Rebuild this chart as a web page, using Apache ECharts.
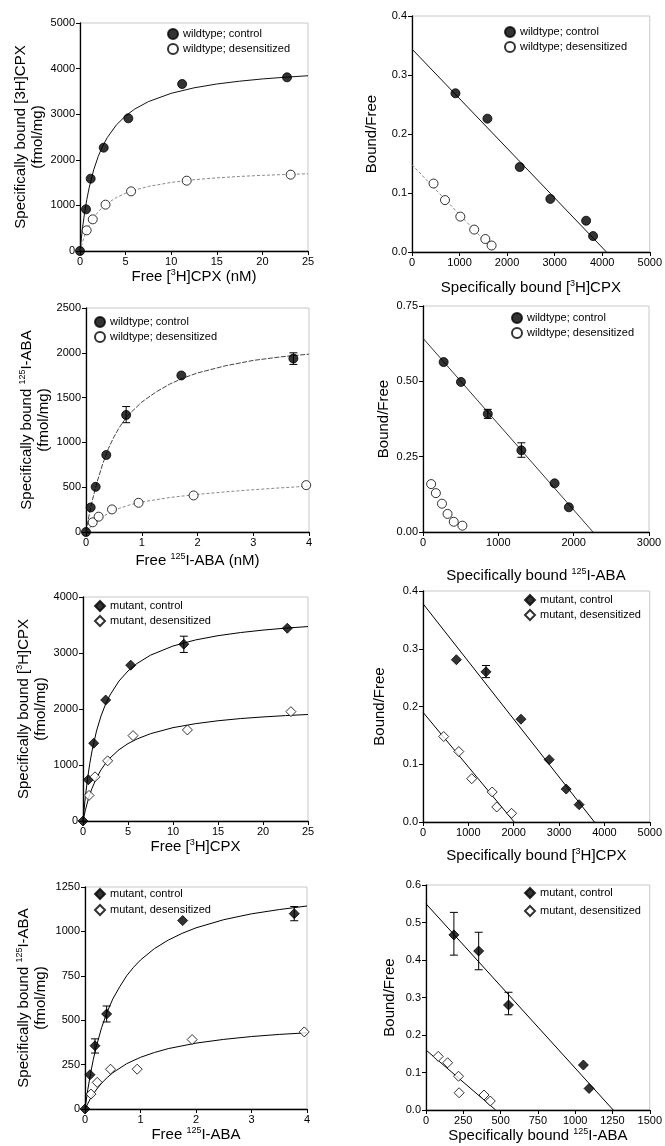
<!DOCTYPE html>
<html><head><meta charset="utf-8">
<script src="https://cdn.jsdelivr.net/npm/echarts@6/dist/echarts.min.js"></script>
<style>html,body{margin:0;padding:0;background:#fff}#c{width:665px;height:1146px}</style>
</head><body><div id="c"></div>
<script>
// ---------- Panel 1 / 2 : wildtype, [3H]CPX ----------
const wtCpxCtrlFree  = [0, 0.66, 1.17, 2.6, 5.3, 11.2, 22.7];
const wtCpxCtrlBound = [0, 914, 1586, 2266, 2909, 3662, 3808];
const wtCpxDesFree   = [0.73, 1.4, 2.8, 5.6, 11.7, 23.1];
const wtCpxDesBound  = [453, 694, 1016, 1308, 1542, 1674];
const wtCpxCtrlFit = [[0,0],[0.25,461],[0.5,830],[0.75,1132],[1,1383],[1.5,1779],[2,2075],[2.5,2306],[3,2490],[4,2767],[5,2964],[6,3113],[7.5,3276],[10,3458],[12.5,3578],[15,3662],[17.5,3724],[20,3773],[22.5,3811],[25,3843]];
const wtCpxDesFit  = [[0,0],[0.25,181],[0.5,330],[0.75,455],[1,561],[1.5,730],[2,860],[2.5,964],[3,1047],[4,1175],[5,1267],[6,1337],[7.5,1416],[10,1504],[12.5,1563],[15,1604],[17.5,1635],[20,1659],[22.5,1678],[25,1694]];
const wtCpxCtrlBF = [0.269, 0.226, 0.144, 0.090, 0.053, 0.027];
const wtCpxDesBF  = [0.116, 0.088, 0.060, 0.038, 0.022, 0.011];
const wtCpxCtrlLine = [[0,0.344],[4090,0]];
const wtCpxDesLine  = [[0,0.148],[1750,0]];

// ---------- Panel 3 / 4 : wildtype, 125I-ABA ----------
const wtAbaCtrlFree  = [0, 0.084, 0.173, 0.364, 0.72, 1.71, 3.72];
const wtAbaCtrlBound = [0, 274, 504, 860, 1306, 1747, 1936];
const wtAbaDesFree   = [0.12, 0.227, 0.466, 0.943, 1.93, 3.95];
const wtAbaDesBound  = [108, 171, 252, 326, 408, 523];
const wtAbaCtrlErr = [[0.72, 1220, 1400], [3.72, 1870, 2000]];
const wtAbaCtrlFit = [[0,0],[0.05,170],[0.1,320],[0.2,560],[0.3,760],[0.4,930],[0.5,1060],[0.6,1170],[0.75,1300],[1,1450],[1.25,1560],[1.5,1650],[1.75,1720],[2,1775],[2.5,1855],[3,1915],[3.5,1955],[4,1985]];
const wtAbaDesFit  = [[0,0],[0.1,70],[0.2,125],[0.3,170],[0.45,225],[0.6,265],[0.8,305],[1,335],[1.5,385],[2,420],[2.5,448],[3,472],[3.5,493],[4,512]];
const wtAbaCtrlBF = [0.564, 0.498, 0.392, 0.271, 0.1615, 0.082];
const wtAbaDesBF  = [0.159, 0.129, 0.094, 0.060, 0.034, 0.021];
const wtAbaCtrlBFErr = [[860, 0.377, 0.407], [1306, 0.248, 0.296]];
const wtAbaCtrlLine = [[0,0.643],[2257,0]];

// ---------- Panel 5 / 6 : mutant, [3H]CPX ----------
const muCpxCtrlFree  = [0, 0.59, 1.19, 2.52, 5.3, 11.2, 22.7];
const muCpxCtrlBound = [0, 736, 1389, 2160, 2783, 3157, 3442];
const muCpxDesFree   = [0.67, 1.33, 2.74, 5.56, 11.6, 23.1];
const muCpxDesBound  = [457, 789, 1074, 1525, 1626, 1953];
const muCpxCtrlErr = [[11.2, 3010, 3300]];
const muCpxCtrlFit = [[0,0],[0.25,417],[0.5,750],[0.75,1023],[1,1250],[1.5,1607],[2,1875],[2.5,2083],[3,2250],[4,2500],[5,2679],[6,2813],[7.5,2961],[10,3125],[12.5,3233],[15,3309],[17.5,3365],[20,3409],[22.5,3444],[25,3472]];
const muCpxDesFit  = [[0,0],[0.25,184],[0.5,339],[0.75,470],[1,583],[1.5,768],[2,913],[2.5,1029],[3,1125],[4,1273],[5,1382],[6,1465],[7.5,1559],[10,1667],[12.5,1738],[15,1790],[17.5,1829],[20,1858],[22.5,1882],[25,1902]];
const muCpxCtrlBF = [0.281, 0.260, 0.178, 0.108, 0.057, 0.030];
const muCpxDesBF  = [0.148, 0.122, 0.075, 0.052, 0.026, 0.015];
const muCpxCtrlBFErr = [[1389, 0.250, 0.271]];
const muCpxCtrlLine = [[0,0.378],[3780,0]];
const muCpxDesLine  = [[0,0.19],[2010,0]];

// ---------- Panel 7 / 8 : mutant, 125I-ABA ----------
const muAbaCtrlFree  = [0, 0.09, 0.18, 0.39, 1.76, 3.77];
const muAbaCtrlBound = [0, 193, 356, 535, 1061, 1100];
const muAbaDesFree   = [0.108, 0.22, 0.46, 0.94, 1.93, 3.95];
const muAbaDesBound  = [84, 150, 224, 224, 391, 434];
const muAbaCtrlErr = [[0.18, 315, 395], [0.39, 490, 580], [3.77, 1060, 1140]];
const muAbaCtrlFit = [[0,0],[0.05,108],[0.1,200],[0.15,279],[0.2,347],[0.3,459],[0.4,547],[0.5,619],[0.625,688],[0.75,750],[0.875,798],[1,839],[1.25,903],[1.5,951],[1.75,989],[2,1020],[2.5,1066],[3,1099],[3.5,1123],[4,1143]];
const muAbaDesFit  = [[0,0],[0.1,60],[0.2,107],[0.3,146],[0.4,177],[0.5,204],[0.75,255],[1,291],[1.25,318],[1.5,340],[2,371],[2.5,392],[3,408],[3.5,420],[4,429]];
const muAbaCtrlScBound = [187, 353, 553, 1055, 1093];
const muAbaCtrlBF = [0.467, 0.424, 0.280, 0.120, 0.0575];
const muAbaDesScBound = [82, 145, 218, 222, 389, 431];
const muAbaDesBF  = [0.143, 0.126, 0.090, 0.046, 0.040, 0.024];
const muAbaCtrlBFErr = [[187, 0.413, 0.527], [353, 0.374, 0.474], [553, 0.254, 0.314]];
const muAbaCtrlLine = [[0,0.55],[1255,0]];
const muAbaDesLine  = [[0,0.16],[467,0]];

// ---------- labels ----------
const WT_C = 'wildtype; control', WT_D = 'wildtype; desensitized';
const MU_C = 'mutant, control', MU_D = 'mutant, desensitized';

const FONT = '"Liberation Sans", Arial, Helvetica, sans-serif';
const rich = { sup: { fontSize: 9, verticalAlign: 'top', fontFamily: FONT, color: '#000' } };

const grids = [
  {left: 80,  top: 23,  width: 228, height: 228},
  {left: 412, top: 16,  width: 238, height: 236},
  {left: 86,  top: 308, width: 223, height: 224},
  {left: 423, top: 306, width: 226, height: 226},
  {left: 83,  top: 597, width: 225, height: 224},
  {left: 423, top: 591, width: 233, height: 231},
  {left: 85,  top: 887, width: 222, height: 222},
  {left: 426, top: 885, width: 225, height: 225}
].map(g => Object.assign({show: true, borderColor: '#c8c8c8', borderWidth: 1, containLabel: false}, g));

function axisBase(gi, min, max, interval, name, gap, dec) {
  return {
    type: 'value', gridIndex: gi, min, max, interval,
    name, nameLocation: 'middle', nameGap: gap,
    nameTextStyle: {fontSize: 15, fontFamily: FONT, color: '#000', lineHeight: 17, rich},
    axisLine: {show: true, onZero: false, lineStyle: {color: '#000', width: 1.3}},
    axisTick: {show: true, inside: false, length: 4, lineStyle: {color: '#000'}},
    axisLabel: {fontSize: 11, fontFamily: FONT, color: '#000', margin: 5,
      formatter: v => dec == null ? String(v) : v.toFixed(dec)},
    splitLine: {show: false}
  };
}

const xAxes = [
  axisBase(0, 0, 25, 5, 'Free [{sup|3}H]CPX (nM)', 16),
  axisBase(1, 0, 5000, 1000, 'Specifically bound [{sup|3}H]CPX', 27),
  axisBase(2, 0, 4, 1, 'Free {sup|125}I-ABA (nM)', 20),
  axisBase(3, 0, 3000, 1000, 'Specifically bound {sup|125}I-ABA', 35),
  axisBase(4, 0, 25, 5, 'Free [{sup|3}H]CPX', 17),
  axisBase(5, 0, 5000, 1000, 'Specifically bound [{sup|3}H]CPX', 25),
  axisBase(6, 0, 4, 1, 'Free {sup|125}I-ABA', 17),
  axisBase(7, 0, 1500, 250, 'Specifically bound {sup|125}I-ABA', 12)
];
const yAxes = [
  axisBase(0, 0, 5000, 1000, 'Specifically bound [3H]CPX\n(fmol/mg)', 34),
  axisBase(1, 0, 0.4, 0.1, 'Bound/Free', 32, 1),
  axisBase(2, 0, 2500, 500, 'Specifically bound {sup|125}I-ABA\n(fmol/mg)', 34),
  axisBase(3, 0, 0.75, 0.25, 'Bound/Free', 31, 2),
  axisBase(4, 0, 4000, 1000, 'Specifically bound [{sup|3}H]CPX\n(fmol/mg)', 34),
  axisBase(5, 0, 0.4, 0.1, 'Bound/Free', 35, 1),
  axisBase(6, 0, 1250, 250, 'Specifically bound {sup|125}I-ABA\n(fmol/mg)', 36),
  axisBase(7, 0, 0.6, 0.1, 'Bound/Free', 28, 1)
];

const FILLED = {color: '#000', borderColor: '#000', borderWidth: 1};
const OPEN = {color: '#fff', borderColor: '#000', borderWidth: 1};

function pts(xs, ys) { return xs.map((x, i) => [x, ys[i]]); }
function scatter(gi, name, xs, ys, filled, sym) {
  return {type: 'scatter', name, xAxisIndex: gi, yAxisIndex: gi, symbol: sym,
    symbolSize: sym === 'diamond' ? 10 : 9, data: pts(xs, ys),
    itemStyle: filled ? FILLED : OPEN, z: 4, silent: true, clip: false};
}
function fit(gi, data, color, type) {
  return {type: 'line', xAxisIndex: gi, yAxisIndex: gi, data, showSymbol: false, symbol: 'none',
    smooth: false, lineStyle: {color, width: 1, type, join: 'round'}, z: 2, silent: true};
}
function errs(gi, data) {
  return {type: 'custom', xAxisIndex: gi, yAxisIndex: gi, data, z: 3, silent: true,
    encode: {x: 0, y: [1, 2]},
    renderItem: function (params, api) {
      const x = api.value(0), lo = api.value(1), hi = api.value(2);
      const a = api.coord([x, lo]), b = api.coord([x, hi]);
      const w = 4, st = {stroke: '#000', lineWidth: 1};
      return {type: 'group', children: [
        {type: 'line', shape: {x1: a[0], y1: a[1], x2: b[0], y2: b[1]}, style: st},
        {type: 'line', shape: {x1: a[0] - w, y1: a[1], x2: a[0] + w, y2: a[1]}, style: st},
        {type: 'line', shape: {x1: b[0] - w, y1: b[1], x2: b[0] + w, y2: b[1]}, style: st}
      ]};
    }};
}

const series = [
  // panel 1
  fit(0, wtCpxCtrlFit, '#111', 'solid'),
  fit(0, wtCpxDesFit, '#888', [3, 2]),
  scatter(0, WT_C, wtCpxCtrlFree, wtCpxCtrlBound, true, 'circle'),
  scatter(0, WT_D, wtCpxDesFree, wtCpxDesBound, false, 'circle'),
  // panel 2
  fit(1, wtCpxCtrlLine, '#111', 'solid'),
  fit(1, wtCpxDesLine, '#888', [3, 2]),
  scatter(1, WT_C, wtCpxCtrlBound.slice(1), wtCpxCtrlBF, true, 'circle'),
  scatter(1, WT_D, wtCpxDesBound, wtCpxDesBF, false, 'circle'),
  // panel 3
  fit(2, wtAbaCtrlFit, '#444', [5, 1.5]),
  fit(2, wtAbaDesFit, '#888', [3, 2]),
  errs(2, wtAbaCtrlErr),
  scatter(2, WT_C, wtAbaCtrlFree, wtAbaCtrlBound, true, 'circle'),
  scatter(2, WT_D, wtAbaDesFree, wtAbaDesBound, false, 'circle'),
  // panel 4
  fit(3, wtAbaCtrlLine, '#333', 'solid'),
  errs(3, wtAbaCtrlBFErr),
  scatter(3, WT_C, wtAbaCtrlBound.slice(1), wtAbaCtrlBF, true, 'circle'),
  scatter(3, WT_D, wtAbaDesBound, wtAbaDesBF, false, 'circle'),
  // panel 5
  fit(4, muCpxCtrlFit, '#000', 'solid'),
  fit(4, muCpxDesFit, '#000', 'solid'),
  errs(4, muCpxCtrlErr),
  scatter(4, MU_C, muCpxCtrlFree, muCpxCtrlBound, true, 'diamond'),
  scatter(4, MU_D, muCpxDesFree, muCpxDesBound, false, 'diamond'),
  // panel 6
  fit(5, muCpxCtrlLine, '#000', 'solid'),
  fit(5, muCpxDesLine, '#000', 'solid'),
  errs(5, muCpxCtrlBFErr),
  scatter(5, MU_C, muCpxCtrlBound.slice(1), muCpxCtrlBF, true, 'diamond'),
  scatter(5, MU_D, muCpxDesBound, muCpxDesBF, false, 'diamond'),
  // panel 7
  fit(6, muAbaCtrlFit, '#000', 'solid'),
  fit(6, muAbaDesFit, '#000', 'solid'),
  errs(6, muAbaCtrlErr),
  scatter(6, MU_C, muAbaCtrlFree, muAbaCtrlBound, true, 'diamond'),
  scatter(6, MU_D, muAbaDesFree, muAbaDesBound, false, 'diamond'),
  // panel 8
  fit(7, muAbaCtrlLine, '#000', 'solid'),
  fit(7, muAbaDesLine, '#000', 'solid'),
  errs(7, muAbaCtrlBFErr),
  scatter(7, MU_C, muAbaCtrlScBound, muAbaCtrlBF, true, 'diamond'),
  scatter(7, MU_D, muAbaDesScBound, muAbaDesBF, false, 'diamond')
];

function legend(left, top, names, gap) {
  return {orient: 'vertical', left, top, padding: 0, itemWidth: 10, itemHeight: 10, itemGap: gap,
    data: names, selectedMode: false,
    textStyle: {fontSize: 11, fontFamily: FONT, color: '#000', lineHeight: 12}};
}
const legends = [
  legend(167, 28, [WT_C, WT_D], 3),
  legend(504, 26, [WT_C, WT_D], 3),
  legend(94, 316, [WT_C, WT_D], 3),
  legend(511, 312, [WT_C, WT_D], 3),
  legend(94, 600, [MU_C, MU_D], 3),
  legend(524, 594, [MU_C, MU_D], 3),
  legend(94, 888, [MU_C, MU_D], 4),
  legend(524, 887, [MU_C, MU_D], 6)
];

const chart = echarts.init(document.getElementById('c'), null, {renderer: 'canvas'});
chart.setOption({
  animation: false,
  backgroundColor: '#fff',
  grid: grids, xAxis: xAxes, yAxis: yAxes, legend: legends, series
});
</script></body></html>
